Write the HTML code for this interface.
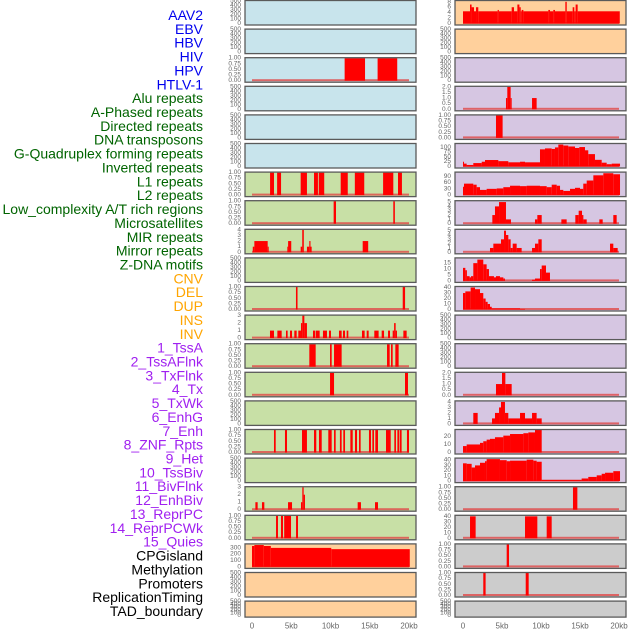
<!DOCTYPE html>
<html><head><meta charset="utf-8"><style>
html,body{margin:0;padding:0;background:#fff;}
svg{display:block;font-family:"Liberation Sans",sans-serif;}
</style></head><body>
<svg id="chart" width="630" height="630" viewBox="0 0 630 630" xmlns="http://www.w3.org/2000/svg">
<g id="labels"></g>
<g id="panels"></g>
<g id="xaxis"></g>
</svg>
<script>
const trackNames = ["AAV2","EBV","HBV","HIV","HPV","HTLV-1","Alu repeats","A-Phased repeats","Directed repeats","DNA transposons","G-Quadruplex forming repeats","Inverted repeats","L1 repeats","L2 repeats","Low_complexity A/T rich regions","Microsatellites","MIR repeats","Mirror repeats","Z-DNA motifs","CNV","DEL","DUP","INS","INV","1_TssA","2_TssAFlnk","3_TxFlnk","4_Tx","5_TxWk","6_EnhG","7_Enh","8_ZNF_Rpts","9_Het","10_TssBiv","11_BivFlnk","12_EnhBiv","13_ReprPC","14_ReprPCWk","15_Quies","CPGisland","Methylation","Promoters","ReplicationTiming","TAD_boundary"];
const trackGroups = [0,0,0,0,0,0,1,1,1,1,1,1,1,1,1,1,1,1,1,2,2,2,2,2,3,3,3,3,3,3,3,3,3,3,3,3,3,3,3,4,4,4,4,4];
const xTickLabels = ["0","5kb","10kb","15kb","20kb"];
const xTickValues = [0,5,10,15,20];

const segL2 = [[11.8,14.4,1],[16.0,18.5,1]];
const segL6 = [[2.3,2.8,1],[3.2,3.7,1],[6.2,7.0,1],[7.9,8.4,1],[8.5,9.2,1],[11.3,12.2,1],[13.1,14.3,1],[16.7,18.0,1],[18.6,19.1,1]];
const segL7 = [[10.4,10.7,1],[18.0,18.2,1]];
const segL8 = [[0.1,0.3,1],[0.3,2.0,2],[2.0,2.1,1],[4.5,4.6,1],[4.6,5.0,2],[6.2,6.4,1],[6.4,6.6,4],[7.0,7.3,1],[7.3,7.45,2],[7.45,7.6,1],[14.1,14.8,2]];
const segL10 = [[5.6,5.8,1],[19.2,19.5,1]];
const segL11 = [[2.29,2.8,1],[3.23,3.78,1],[4.33,4.54,1],[4.84,5.1,1],[5.39,5.69,1],[5.9,6.24,1],[6.24,6.41,2],[6.41,6.67,3],[6.67,7.0,2],[7.77,8.03,1],[8.11,8.62,1],[9.04,9.55,1],[9.81,10.06,1],[11.08,11.42,1],[11.59,11.85,1],[12.06,12.27,1],[14.01,14.35,1],[14.61,14.86,1],[15.58,16.13,1],[16.52,16.82,1],[17.33,17.58,1],[17.92,18.1,1],[18.1,18.3,2],[18.3,18.47,1],[19.28,19.7,1]];
const segL12 = [[7.3,8.11,1],[9.94,10.15,1],[10.45,11.42,1],[17.2,17.54,1],[17.71,17.92,1],[18.26,18.68,1]];
const segL13 = [[9.94,10.45,1],[19.49,19.87,1]];
const segL15 = [[2.8,3.02,1],[4.2,4.46,1],[6.37,7.0,1],[7.9,8.19,1],[8.53,8.88,1],[9.72,10.15,1],[10.45,10.66,1],[11.2,11.42,1],[11.63,11.85,1],[12.53,12.83,1],[13.12,13.38,1],[13.63,13.84,1],[14.9,15.16,1],[15.33,15.54,1],[15.71,16.05,1],[17.07,17.67,1],[18.13,18.34,1],[18.52,18.77,1],[18.85,19.06,1],[19.74,20.0,1]];
const segL17 = [[0.43,0.72,1],[1.27,1.57,1],[4.59,5.1,1],[6.24,6.41,1],[6.41,6.58,3],[6.58,6.75,2],[13.46,13.88,1],[15.67,16.05,1]];
const segL18 = [[3.06,3.31,1],[3.69,3.95,1],[4.1,4.97,1],[5.61,5.86,1]];
const segL19 = [[0,0.3,330],[0.3,1.5,345],[1.5,2.4,330],[2.4,10.1,300],[10.1,20.1,280]];

const segR0 = [[0,0.9,4.5],[0.9,1.1,7],[1.1,1.41,6],[1.41,1.67,4.5],[1.67,1.96,6],[1.96,4.44,4.5],[4.44,4.6,5],[4.6,6.24,4.5],[6.24,6.54,6],[6.54,6.97,4.5],[6.97,7.23,7],[7.23,7.4,6],[7.4,7.52,4.5],[7.52,7.74,5],[7.74,10.94,4.5],[10.94,11.15,5],[11.15,11.58,4.5],[11.58,11.79,5],[11.79,13.12,4.5],[13.12,13.3,8],[13.3,14.06,4.5],[14.06,14.27,6],[14.27,14.44,4.5],[14.44,14.7,7],[14.7,20.1,4.5]];
const segR3 = [[5.51,5.68,1],[5.68,6.11,2],[6.11,6.24,1],[8.85,9.44,1]];
const segR4 = [[4.23,5.08,1]];
const segR5 = [[0,0.13,25],[0.13,0.47,15],[0.47,1.32,8],[1.32,2.4,18],[2.4,2.82,25],[2.82,4.53,34],[4.53,5.81,28],[5.81,7.31,22],[7.31,7.95,25],[7.95,9.87,22],[9.87,10.51,90],[10.51,11.37,95],[11.37,11.79,92],[11.79,12.22,100],[12.22,12.86,115],[12.86,13.5,110],[13.5,14.36,105],[14.36,14.91,97],[14.91,15.64,102],[15.64,16.06,85],[16.06,16.92,65],[16.92,17.78,35],[17.78,18.42,20],[18.42,19.06,12],[19.06,20.13,15]];
const segR6 = [[0,0.13,40],[0.13,1.32,55],[1.32,1.75,50],[1.75,2.18,38],[2.18,3.03,25],[3.03,4.32,30],[4.32,5.17,32],[5.17,6.03,38],[6.03,7.31,45],[7.31,8.16,43],[8.16,9.87,45],[9.87,10.73,43],[10.73,11.37,38],[11.37,12.01,50],[12.01,12.44,45],[12.44,12.86,25],[12.86,13.72,20],[13.72,14.36,30],[14.36,15.0,35],[15.0,15.42,30],[15.42,15.86,55],[15.86,16.71,70],[16.71,17.99,95],[17.99,19.27,105],[19.27,20.13,100]];
const segR7 = [[3.76,4.1,2],[4.1,4.62,4],[4.62,5.51,5],[5.51,6.15,1],[9.23,9.53,1],[9.53,10.09,2],[12.61,13.29,1],[14.4,14.83,2],[14.83,15.26,3],[15.26,15.43,2],[15.43,15.86,1],[17.48,17.91,1],[19.27,19.7,2]];
const segR8 = [[3.46,3.89,1],[3.89,4.87,2],[4.87,5.26,3],[5.26,5.51,5],[5.51,5.81,4],[5.81,6.11,3],[6.11,6.37,1],[6.37,6.88,2],[6.88,7.52,1],[8.85,9.23,1],[9.23,9.66,2],[9.66,10.09,3],[18.85,19.27,2],[19.27,19.83,1]];
const segR9 = [[0,0.3,11],[0.3,0.5,9],[0.5,0.85,4],[0.85,1.03,3],[1.03,1.32,4],[1.32,1.84,15],[1.84,2.6,18],[2.6,3.03,14],[3.03,3.33,10],[3.33,3.97,4],[3.97,4.23,3],[4.23,4.74,4],[4.74,5.17,3],[5.17,5.38,2],[8.85,9.23,1],[9.23,9.87,2],[9.87,10.09,10],[10.09,10.64,13],[10.64,11.15,7]];
const segR10 = [[0,0.3,30],[0.3,0.98,33],[0.98,1.54,40],[1.54,2.18,37],[2.18,2.6,30],[2.6,2.9,20],[2.9,3.16,14],[3.16,3.46,10],[3.46,3.68,5],[3.68,7.31,2],[7.31,7.95,1]];
const segR13 = [[4.23,5.0,1],[5.0,5.43,2],[5.43,6.24,1]];
const segR14 = [[1.32,1.88,2],[3.72,4.1,1],[4.1,4.62,2],[4.62,4.87,3],[4.87,5.38,4],[5.38,5.81,2],[5.81,7.31,1],[7.31,7.95,2],[7.95,8.85,1],[8.85,9.44,2],[9.44,10.09,1]];
const segR15 = [[0,0.47,8],[0.47,2.18,10],[2.18,2.6,12],[2.6,3.03,14],[3.03,3.46,16],[3.46,4.1,17],[4.1,5.17,19],[5.17,6.03,21],[6.03,7.74,23],[7.74,8.38,24],[8.38,9.23,25],[9.23,10.09,28]];
const segR16 = [[0,0.47,34],[0.47,1.11,33],[1.11,1.54,26],[1.54,2.18,30],[2.18,2.82,35],[2.82,3.03,38],[3.03,4.74,42],[4.74,5.6,40],[5.6,6.03,38],[6.03,8.16,39],[8.16,9.02,41],[9.02,9.44,39],[9.44,10.09,37],[10.09,15.21,2],[15.21,16.06,5],[16.06,17.14,8],[17.14,17.78,11],[17.78,18.21,14],[18.21,19.27,16],[19.27,20.13,19]];
const segR17 = [[14.1,14.66,1]];
const segR18 = [[0.9,1.62,40],[7.95,9.53,40],[10.73,11.37,40]];
const segR19 = [[5.6,5.9,1]];
const segR20 = [[2.6,2.9,1],[8.04,8.42,1]];

const T500 = ["0","100","200","300","400","500"];
const T01 = ["0.00","0.25","0.50","0.75","1.00"];
const panelsLeft = [
 {bg:"#c8e4ec",ymax:500,ticks:T500,seg:null},
 {bg:"#c8e4ec",ymax:500,ticks:T500,seg:null},
 {bg:"#c8e4ec",ymax:1,ticks:T01,seg:segL2},
 {bg:"#c8e4ec",ymax:500,ticks:T500,seg:null},
 {bg:"#c8e4ec",ymax:500,ticks:T500,seg:null},
 {bg:"#c8e4ec",ymax:500,ticks:T500,seg:null},
 {bg:"#c8e0a6",ymax:1,ticks:T01,seg:segL6},
 {bg:"#c8e0a6",ymax:1,ticks:T01,seg:segL7},
 {bg:"#c8e0a6",ymax:4,ticks:["0","1","2","3","4"],seg:segL8},
 {bg:"#c8e0a6",ymax:500,ticks:T500,seg:null},
 {bg:"#c8e0a6",ymax:1,ticks:T01,seg:segL10},
 {bg:"#c8e0a6",ymax:3,ticks:["0","1","2","3"],seg:segL11},
 {bg:"#c8e0a6",ymax:1,ticks:T01,seg:segL12},
 {bg:"#c8e0a6",ymax:1,ticks:T01,seg:segL13},
 {bg:"#c8e0a6",ymax:500,ticks:T500,seg:null},
 {bg:"#c8e0a6",ymax:1,ticks:T01,seg:segL15},
 {bg:"#c8e0a6",ymax:500,ticks:T500,seg:null},
 {bg:"#c8e0a6",ymax:3,ticks:["0","1","2","3"],seg:segL17},
 {bg:"#c8e0a6",ymax:1,ticks:T01,seg:segL18},
 {bg:"#ffd09c",ymax:355,ticks:["0","100","200","300"],seg:segL19},
 {bg:"#ffd09c",ymax:500,ticks:T500,seg:null},
 {bg:"#ffd09c",ymax:500,ticks:T500,seg:null}
];
const panelsRight = [
 {bg:"#ffd09c",ymax:8.3,ticks:["0","2","4","6","8"],seg:segR0},
 {bg:"#ffd09c",ymax:500,ticks:T500,seg:null},
 {bg:"#d6c6e2",ymax:500,ticks:T500,seg:null},
 {bg:"#d6c6e2",ymax:2,ticks:["0.0","0.5","1.0","1.5","2.0"],seg:segR3},
 {bg:"#d6c6e2",ymax:1,ticks:T01,seg:segR4},
 {bg:"#d6c6e2",ymax:118,ticks:["0","25","50","75","100"],seg:segR5},
 {bg:"#d6c6e2",ymax:108,ticks:["0","30","60","90"],seg:segR6},
 {bg:"#d6c6e2",ymax:5.2,ticks:["0","1","2","3","4","5"],seg:segR7},
 {bg:"#d6c6e2",ymax:5.2,ticks:["0","1","2","3","4","5"],seg:segR8},
 {bg:"#d6c6e2",ymax:19,ticks:["0","5","10","15"],seg:segR9},
 {bg:"#d6c6e2",ymax:41,ticks:["0","10","20","30","40"],seg:segR10},
 {bg:"#d6c6e2",ymax:500,ticks:T500,seg:null},
 {bg:"#d6c6e2",ymax:500,ticks:T500,seg:null},
 {bg:"#d6c6e2",ymax:2,ticks:["0.0","0.5","1.0","1.5","2.0"],seg:segR13},
 {bg:"#d6c6e2",ymax:4.1,ticks:["0","1","2","3","4"],seg:segR14},
 {bg:"#d6c6e2",ymax:28,ticks:["0","10","20"],seg:segR15},
 {bg:"#d6c6e2",ymax:43,ticks:["0","10","20","30","40"],seg:segR16},
 {bg:"#cccccc",ymax:1,ticks:T01,seg:segR17},
 {bg:"#cccccc",ymax:41,ticks:["0","10","20","30","40"],seg:segR18},
 {bg:"#cccccc",ymax:1,ticks:T01,seg:segR19},
 {bg:"#cccccc",ymax:1,ticks:T01,seg:segR20},
 {bg:"#cccccc",ymax:500,ticks:T500,seg:null}
];

const NS = "http://www.w3.org/2000/svg";
function mk(tag, attrs, parent){const e=document.createElementNS(NS,tag);for(const k in attrs)e.setAttribute(k,attrs[k]);parent.appendChild(e);return e;}
const groupColors = ["#0000ee","#006400","#ffa500","#a020f0","#000000"];
const labelsG = document.getElementById("labels");
trackNames.forEach((n,i)=>{
  const t = mk("text",{x:203,y:(15+i*13.86).toFixed(1),"text-anchor":"end","dominant-baseline":"central","font-size":"14",fill:groupColors[trackGroups[i]]},labelsG);
  
  
  t.textContent = n;
});

const cols = [{x0:245,x1:416,zero:252,ppk:7.85,panels:panelsLeft,name:"left"},{x0:455,x1:626,zero:463,ppk:7.8,panels:panelsRight,name:"right"}];
const panelsG = document.getElementById("panels");
function rowTop(i){return 0.5+i*28.6;}
cols.forEach(c=>{
  const xs = kb => c.zero + kb*c.ppk;
  c.panels.forEach((p,i)=>{
    const top = rowTop(i);
    const h = i===21 ? 16 : 24.5;
    const bot = top+h;
    const y0 = bot-1.5, y1 = top+0.5;
    const ys = v => y0 - (v/p.ymax)*(y0-y1);
    const g = mk("g",{},panelsG);
    
    
    mk("rect",{x:c.x0,y:top,width:c.x1-c.x0,height:h,fill:p.bg},g);
    if(p.seg){
      const bl = mk("rect",{x:xs(0),y:y0-1.5,width:xs(20)-xs(0),height:2,fill:"#e04848","fill-opacity":"0.8"},g);
      
      
      p.seg.forEach(s=>{
        const r = mk("rect",{x:xs(s[0]).toFixed(2),y:ys(s[2]).toFixed(2),width:Math.max(1,xs(s[1])-xs(s[0])).toFixed(2),height:(y0-ys(s[2])).toFixed(2),fill:"#ff0000"},g);
        
        
      });
    }
    mk("rect",{x:c.x0,y:top,width:c.x1-c.x0,height:h,fill:"none",stroke:"#5a5a5a","stroke-width":"1.3"},g);
    p.ticks.forEach(tl=>{
      const v = parseFloat(tl);
      const t = mk("text",{x:c.x0-4,y:ys(v).toFixed(1),"text-anchor":"end","dominant-baseline":"central","font-size":"6.5",fill:"#666"},g);
      
      
      t.textContent = tl;
    });
  });
  const xg = document.getElementById("xaxis");
  xTickValues.forEach((v,k)=>{
    const t = mk("text",{x:xs(v).toFixed(1),y:626,"text-anchor":"middle","dominant-baseline":"central","font-size":"8",fill:"#666"},xg);
    
    
    t.textContent = xTickLabels[k];
  });
});
</script>
</body></html>
